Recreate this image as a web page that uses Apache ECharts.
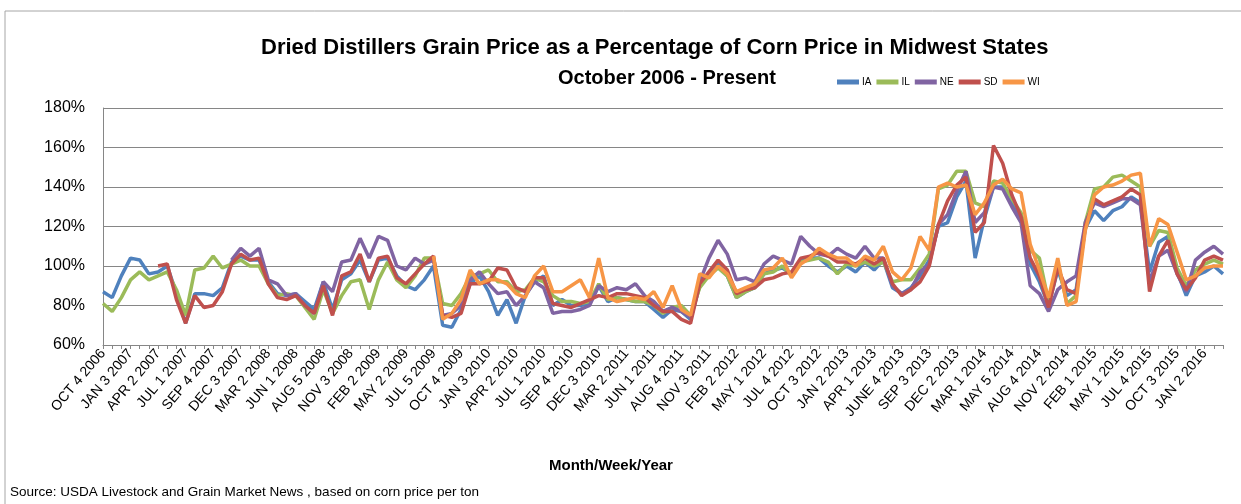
<!DOCTYPE html>
<html>
<head>
<meta charset="utf-8">
<script src="https://cdn.jsdelivr.net/npm/echarts@6/dist/echarts.min.js"></script>
<style>
  html, body { margin: 0; padding: 0; background: #fff; }
  #chart { width: 1241px; height: 504px; }
</style>
</head>
<body>
<div id="chart"></div>
<script>
// one label every 12 weeks, data sampled every 4 weeks
const tickLabels = ['OCT 4 2006', 'JAN 3 2007', 'APR 2 2007', 'JUL 1 2007', 'SEP 4 2007', 'DEC 3 2007', 'MAR 2 2008', 'JUN 1 2008', 'AUG 5 2008', 'NOV 3 2008', 'FEB 2 2009', 'MAY 2 2009', 'JUL 5 2009', 'OCT 4 2009', 'JAN 3 2010', 'APR 2 2010', 'JUL 1 2010', 'SEP 4 2010', 'DEC 3 2010', 'MAR 2 2011', 'JUN 1 2011', 'AUG 4 2011', 'NOV 3 2011', 'FEB 2 2012', 'MAY 1 2012', 'JUL 4 2012', 'OCT 3 2012', 'JAN 2 2013', 'APR 1 2013', 'JUNE 4 2013', 'SEP 3 2013', 'DEC 2 2013', 'MAR 1 2014', 'MAY 5 2014', 'AUG 4 2014', 'NOV 2 2014', 'FEB 1 2015', 'MAY 1 2015', 'JUL 4 2015', 'OCT 3 2015', 'JAN 2 2016']

const IA = [87, 84, 95, 104, 103, 96, 97, 100, 86, 71, 86, 86, 85, 89,
  102, 105, 103, 103, 92, 86, 85, 86, 82, 78, 92, 78, 93, 96, 103, 92, 103, 104, 95, 90,
  88, 93, 100, 70, 69, 78, 91, 95, 87, 75, 83, 71, 85, 92, 95, 80, 83, 80, 80, 81,
  90, 82, 84, 83, 82, 82, 78, 74, 78, 77, 73, 90, 96, 101, 95, 84, 87, 89, 96,
  98, 99, 96, 103, 104, 104, 100, 97, 100, 97, 102, 98, 103, 89, 86, 89, 95,
  103, 120, 122, 135, 143, 104, 124, 140, 140, 133, 124, 101, 92, 80, 98,
  85, 88, 119, 128, 123, 128, 130, 135, 132, 97, 112, 115, 97, 85, 95, 97, 100, 96]

const IL = [81, 77, 84, 93, 97, 93, 95, 97, 88, 75, 98, 99, 105, 99,
  101, 103, 100, 100, 91, 85, 86, 85, 79, 73, 88, 76, 85, 92, 93, 78, 93, 102, 93, 89,
  95, 104, 104, 81, 80, 86, 95, 96, 98, 92, 92, 87, 88, 94, 92, 85, 82, 82, 81, 82,
  91, 83, 84, 83, 82, 82, 80, 76, 79, 80, 75, 89, 95, 99, 95, 84, 87, 89, 96,
  97, 100, 95, 102, 103, 104, 102, 96, 101, 100, 102, 100, 102, 92, 93, 93, 99,
  106, 139, 141, 148, 148, 132, 130, 143, 142, 134, 127, 108, 104, 82, 102,
  81, 85, 122, 139, 140, 145, 146, 143, 140, 110, 118, 117, 99, 90, 98, 101, 103, 101]

const NE = [null, null, null, null, null, null, null, null, null, null, null, null, null, null,
  103, 109, 105, 109, 93, 91, 85, 86, 80, 76, 92, 87, 102, 103, 114, 104, 115, 113, 100, 98,
  104, 101, 103, 75, 76, 80, 93, 97, 91, 86, 87, 80, 85, 92, 89, 76, 77, 77, 78, 80,
  90, 87, 89, 88, 91, 85, 82, 77, 79, 77, 74, 92, 104, 113, 106, 93, 94, 92, 101,
  105, 103, 101, 115, 110, 106, 105, 109, 106, 104, 110, 104, 104, 90, 86, 88, 97,
  101, 121, 126, 138, 148, 122, 127, 140, 139, 130, 122, 90, 86, 77, 88,
  92, 95, 122, 132, 130, 132, 134, 134, 131, 92, 105, 108, 96, 87, 103, 107, 110, 106]

const SD = [null, null, null, null, null, null, 100, 101, 83, 71, 85, 79, 80, 87,
  101, 106, 103, 104, 91, 84, 83, 85, 80, 76, 90, 75, 95, 97, 106, 92, 104, 105, 94, 91,
  96, 101, 105, 75, 74, 76, 91, 91, 92, 99, 98, 89, 87, 94, 94, 81, 80, 79, 81, 83,
  85, 84, 86, 86, 85, 84, 80, 77, 77, 73, 71, 91, 97, 103, 98, 86, 88, 89, 93,
  94, 96, 97, 104, 105, 107, 105, 102, 102, 101, 104, 101, 104, 91, 85, 88, 92,
  100, 121, 133, 141, 145, 117, 122, 161, 152, 136, 125, 104, 95, 79, 99,
  88, 86, 120, 134, 131, 133, 135, 139, 136, 87, 105, 113, 96, 88, 94, 103, 105, 103]

const WI = [null, null, null, null, null, null, null, null, null, null, null, null, null, null,
  null, null, null, null, null, null, null, null, null, null, null, null, null, null, null, null, null, null, null, null,
  null, null, 105, 73, 76, 83, 98, 91, 93, 93, 91, 86, 84, 95, 100, 87, 87, 90, 93, 84,
  104, 84, 82, 83, 84, 83, 87, 79, 90, 78, 75, 96, 94, 100, 96, 87, 89, 91, 98,
  99, 104, 94, 101, 104, 109, 106, 104, 104, 100, 105, 103, 110, 97, 93, 99, 115,
  108, 140, 142, 140, 141, 126, 132, 141, 144, 139, 137, 111, 98, 84, 104,
  80, 82, 118, 136, 140, 141, 143, 146, 147, 110, 124, 121, 107, 93, 95, 99, 100, 100]

const seriesNames = ['IA', 'IL', 'NE', 'SD', 'WI']
const seriesColors = ['#4F81BD', '#9BBB59', '#8064A2', '#C0504D', '#F79646']

// category axis: each tick label followed by two unnamed 4-week steps
const categories = []
for (let lab of tickLabels) {
  categories.push(lab, lab + ' +4wk', lab + ' +8wk')
}

const font = '"Liberation Sans", Arial, sans-serif'

let myChart = echarts.init(document.getElementById('chart'))
myChart.setOption({
  animation: false,
  textStyle: {fontFamily: font},
  graphic: [
    { //外框
      type: 'rect',
      shape: {x: 5, y: 11, width: 1250, height: 510},
      style: {fill: 'none', stroke: '#a6a6a6', lineWidth: 1},
      silent: true,
    },
    {
      type: 'text',
      left: 549,
      top: 458,
      style: {text: 'Month/Week/Year', fill: '#000', font: 'bold 15px ' + font},
    },
    {
      type: 'text',
      left: 10,
      top: 485,
      style: {text: 'Source: USDA Livestock and Grain Market News , based on corn price per ton', fill: '#000', font: '13.5px ' + font},
    },
  ],
  title: [
    {
      text: 'Dried Distillers Grain Price as a Percentage of Corn Price in Midwest States',
      left: 256,
      top: 32,
      textStyle: {fontSize: 22, fontWeight: 'bold', color: '#000', fontFamily: font},
    },
    {
      text: 'October 2006 - Present',
      left: 553,
      top: 63,
      textStyle: {fontSize: 20, fontWeight: 'bold', color: '#000', fontFamily: font},
    },
  ],
  legend: {
    left: 832,
    top: 72,
    itemWidth: 22,
    itemHeight: 5,
    itemGap: 5,
    icon: 'rect',
    textStyle: {fontSize: 10, color: '#000', width: 48, padding: [0, 0, 0, -2]},
    data: seriesNames,
  },
  grid: {
    left: 103,
    right: 18,
    top: 108,
    bottom: 159,
  },
  xAxis: {
    type: 'category',
    data: categories,
    boundaryGap: false,
    axisLine: {lineStyle: {color: '#868686'}},
    axisTick: {interval: 0, length: 4, lineStyle: {color: '#868686'}},
    axisLabel: {
      interval: 2,
      rotate: 50,
      fontSize: 14,
      color: '#000',
      margin: 6,
    },
  },
  yAxis: {
    type: 'value',
    min: 60,
    max: 180,
    interval: 20,
    axisLine: {show: true, lineStyle: {color: '#868686'}},
    axisTick: {show: false},
    axisLabel: {formatter: '{value}%', fontSize: 16, color: '#000', margin: 18},
    splitLine: {lineStyle: {color: '#868686', width: 1}},
  },
  series: [IA, IL, NE, SD, WI].map((vals, k) => ({
    name: seriesNames[k],
    type: 'line',
    data: vals,
    symbol: 'none',
    connectNulls: false,
    itemStyle: {color: seriesColors[k]},
    lineStyle: {color: seriesColors[k], width: 3.5},
  })),
})
</script>
</body>
</html>
